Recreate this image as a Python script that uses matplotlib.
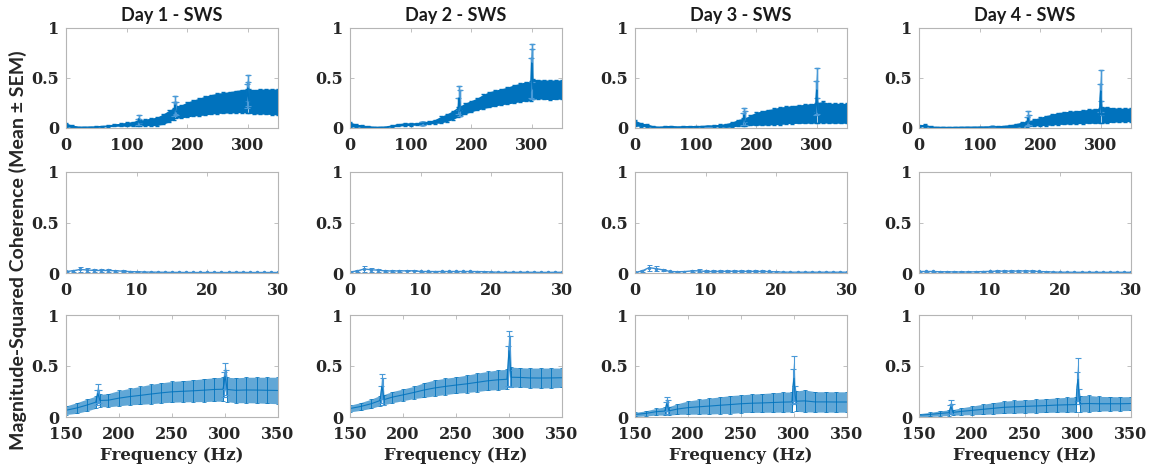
import matplotlib.pyplot as plt
import numpy as np

BLUE = '#0072BD'

# broadband frequency grid (Hz), denser around the 120/180/300 Hz line-noise peaks
freq = [0, 10, 20, 30, 40, 50, 60, 70, 80, 90, 100, 110,
        118, 119, 120, 121, 122,
        130, 140, 150, 160, 170,
        178, 179, 180, 181, 182,
        190, 200, 210, 220, 230, 240, 250, 260, 270, 280, 290,
        298, 299, 300, 301, 302,
        310, 320, 330, 340, 350]

day1_mean = [0.030, 0.018, 0.008, 0.008, 0.009, 0.011, 0.015, 0.020, 0.028, 0.033, 0.037, 0.043,
             0.048, 0.060, 0.090, 0.065, 0.050,
             0.056, 0.061, 0.066, 0.088, 0.118,
             0.145, 0.190, 0.230, 0.200, 0.162,
             0.165, 0.185, 0.200, 0.212, 0.225, 0.237, 0.247, 0.252, 0.257, 0.263, 0.270,
             0.272, 0.320, 0.400, 0.340, 0.270,
             0.262, 0.265, 0.264, 0.262, 0.260]
day1_sem = [0.020, 0.012, 0.005, 0.004, 0.004, 0.005, 0.006, 0.008, 0.012, 0.015, 0.020, 0.022,
            0.025, 0.030, 0.040, 0.030, 0.026,
            0.032, 0.038, 0.042, 0.052, 0.058,
            0.060, 0.070, 0.090, 0.065, 0.060,
            0.065, 0.075, 0.080, 0.088, 0.095, 0.098, 0.102, 0.104, 0.107, 0.112, 0.115,
            0.118, 0.120, 0.130, 0.120, 0.120,
            0.122, 0.125, 0.126, 0.128, 0.130]

day2_mean = [0.035, 0.025, 0.018, 0.012, 0.007, 0.007, 0.010, 0.020, 0.031, 0.037, 0.037, 0.041,
             0.045, 0.046, 0.047, 0.048, 0.049,
             0.055, 0.065, 0.083, 0.103, 0.130,
             0.160, 0.220, 0.300, 0.250, 0.170,
             0.195, 0.217, 0.240, 0.265, 0.285, 0.300, 0.313, 0.325, 0.340, 0.355, 0.365,
             0.370, 0.500, 0.650, 0.540, 0.390,
             0.388, 0.383, 0.382, 0.383, 0.385]
day2_sem = [0.025, 0.015, 0.012, 0.008, 0.005, 0.005, 0.005, 0.010, 0.014, 0.013, 0.013, 0.011,
            0.012, 0.012, 0.013, 0.013, 0.013,
            0.015, 0.020, 0.033, 0.038, 0.045,
            0.050, 0.080, 0.120, 0.130, 0.050,
            0.055, 0.057, 0.060, 0.072, 0.078, 0.080, 0.080, 0.085, 0.090, 0.092, 0.097,
            0.097, 0.200, 0.190, 0.250, 0.100,
            0.095, 0.097, 0.098, 0.097, 0.095]

day3_mean = [0.050, 0.033, 0.025, 0.012, 0.007, 0.012, 0.014, 0.010, 0.012, 0.013, 0.013, 0.015,
             0.016, 0.016, 0.017, 0.017, 0.017,
             0.020, 0.023, 0.025, 0.035, 0.052,
             0.058, 0.090, 0.130, 0.100, 0.060,
             0.078, 0.092, 0.100, 0.107, 0.115, 0.122, 0.130, 0.135, 0.138, 0.142, 0.146,
             0.148, 0.300, 0.380, 0.220, 0.155,
             0.158, 0.148, 0.148, 0.147, 0.147]
day3_sem = [0.030, 0.018, 0.015, 0.008, 0.005, 0.008, 0.008, 0.005, 0.006, 0.007, 0.007, 0.007,
            0.008, 0.008, 0.008, 0.008, 0.008,
            0.010, 0.013, 0.020, 0.025, 0.033,
            0.040, 0.060, 0.070, 0.070, 0.042,
            0.052, 0.065, 0.072, 0.078, 0.082, 0.088, 0.087, 0.090, 0.092, 0.095, 0.098,
            0.098, 0.170, 0.220, 0.080, 0.100,
            0.108, 0.100, 0.100, 0.100, 0.100]

day4_mean = [0.022, 0.024, 0.010, 0.006, 0.006, 0.005, 0.006, 0.007, 0.008, 0.008, 0.009, 0.010,
             0.010, 0.010, 0.011, 0.011, 0.011,
             0.012, 0.015, 0.018, 0.025, 0.035,
             0.042, 0.070, 0.100, 0.080, 0.045,
             0.055, 0.065, 0.075, 0.085, 0.095, 0.100, 0.104, 0.108, 0.112, 0.117, 0.120,
             0.122, 0.300, 0.370, 0.200, 0.130,
             0.132, 0.130, 0.130, 0.130, 0.132]
day4_sem = [0.012, 0.012, 0.006, 0.004, 0.004, 0.003, 0.004, 0.004, 0.005, 0.005, 0.005, 0.005,
            0.005, 0.005, 0.005, 0.005, 0.005,
            0.007, 0.010, 0.015, 0.020, 0.025,
            0.028, 0.045, 0.070, 0.050, 0.028,
            0.035, 0.042, 0.050, 0.055, 0.060, 0.063, 0.064, 0.066, 0.067, 0.070, 0.073,
            0.075, 0.140, 0.210, 0.070, 0.080,
            0.080, 0.072, 0.070, 0.068, 0.068]

# low-frequency band, 1 Hz resolution
freq_low = list(range(0, 31))

day1_low_mean = [0.015, 0.022, 0.035, 0.030, 0.025, 0.025, 0.025, 0.022, 0.018, 0.014, 0.012,
                 0.010, 0.009, 0.008, 0.007, 0.006, 0.006, 0.005, 0.005, 0.005, 0.005,
                 0.005, 0.005, 0.005, 0.006, 0.006, 0.005, 0.005, 0.005, 0.005, 0.005]
day1_low_sem = [0.006, 0.010, 0.025, 0.020, 0.014, 0.014, 0.013, 0.012, 0.008, 0.006, 0.005,
                0.004, 0.004, 0.003, 0.003, 0.003, 0.003, 0.003, 0.003, 0.003, 0.003,
                0.003, 0.003, 0.003, 0.003, 0.003, 0.003, 0.003, 0.003, 0.003, 0.003]

day2_low_mean = [0.010, 0.020, 0.040, 0.032, 0.028, 0.020, 0.020, 0.020, 0.022, 0.022, 0.015,
                 0.015, 0.014, 0.015, 0.015, 0.015, 0.015, 0.015, 0.014, 0.013, 0.010,
                 0.008, 0.006, 0.007, 0.007, 0.007, 0.007, 0.006, 0.006, 0.007, 0.007]
day2_low_sem = [0.005, 0.008, 0.027, 0.020, 0.014, 0.006, 0.006, 0.006, 0.006, 0.006, 0.005,
                0.005, 0.005, 0.005, 0.005, 0.005, 0.005, 0.005, 0.005, 0.005, 0.004,
                0.004, 0.003, 0.003, 0.003, 0.003, 0.003, 0.003, 0.003, 0.003, 0.003]

day3_low_mean = [0.005, 0.020, 0.053, 0.043, 0.030, 0.015, 0.012, 0.014, 0.020, 0.022, 0.015,
                 0.015, 0.016, 0.017, 0.017, 0.017, 0.016, 0.016, 0.015, 0.015, 0.010,
                 0.009, 0.008, 0.008, 0.008, 0.008, 0.008, 0.008, 0.008, 0.008, 0.008]
day3_low_sem = [0.004, 0.010, 0.030, 0.024, 0.012, 0.006, 0.006, 0.010, 0.012, 0.014, 0.010,
                0.010, 0.010, 0.010, 0.010, 0.010, 0.010, 0.010, 0.010, 0.009, 0.006,
                0.005, 0.004, 0.004, 0.004, 0.004, 0.004, 0.004, 0.004, 0.004, 0.004]

day4_low_mean = [0.015, 0.015, 0.015, 0.012, 0.012, 0.010, 0.010, 0.010, 0.012, 0.014, 0.016,
                 0.018, 0.018, 0.018, 0.019, 0.020, 0.018, 0.015, 0.012, 0.010, 0.008,
                 0.008, 0.007, 0.007, 0.007, 0.007, 0.007, 0.007, 0.007, 0.007, 0.007]
day4_low_sem = [0.008, 0.008, 0.008, 0.006, 0.006, 0.005, 0.005, 0.005, 0.006, 0.006, 0.007,
                0.007, 0.007, 0.007, 0.007, 0.007, 0.007, 0.006, 0.005, 0.004, 0.004,
                0.004, 0.004, 0.004, 0.004, 0.004, 0.004, 0.004, 0.004, 0.004, 0.004]

titles = ['Day 1 - SWS', 'Day 2 - SWS', 'Day 3 - SWS', 'Day 4 - SWS']
means = [day1_mean, day2_mean, day3_mean, day4_mean]
sems = [day1_sem, day2_sem, day3_sem, day4_sem]
low_means = [day1_low_mean, day2_low_mean, day3_low_mean, day4_low_mean]
low_sems = [day1_low_sem, day2_low_sem, day3_low_sem, day4_low_sem]

TICK_FONT = {'family': 'DejaVu Serif', 'weight': 'bold', 'size': 11.5}


def style_axes(ax, xlim, xticks):
    ax.set_xlim(*xlim)
    ax.set_ylim(0, 1)
    ax.set_xticks(xticks)
    ax.set_xticklabels([str(t) for t in xticks], fontdict=TICK_FONT)
    ax.set_yticks([0, 0.5, 1])
    ax.set_yticklabels(['0', '0.5', '1'], fontdict=TICK_FONT)
    ax.tick_params(direction='in', length=3, width=0.6, color='#b5b5b5',
                   labelcolor='#262626', top=True, right=True)
    ax.tick_params(axis='x', pad=6.5)
    ax.tick_params(axis='y', pad=5)
    for sp in ax.spines.values():
        sp.set_color('#b5b5b5')
        sp.set_linewidth(0.8)


fig = plt.figure(figsize=(11.58, 4.74), dpi=100)

lefts = [66, 350, 635, 919]
W = 1158.0
H = 474.0
rows = [(28, 128), (172, 273), (315, 417)]

for i in range(4):
    f = np.array(freq)
    m = np.array(means[i])
    s = np.array(sems[i])
    spk = np.isin(f, [119, 120, 121, 179, 180, 181, 299, 300, 301])

    # row 1: full 0-350 Hz range, dense bars render as a solid band
    t, b = rows[0]
    ax = fig.add_axes([lefts[i] / W, 1 - b / H, 212 / W, (b - t) / H])
    ax.fill_between(f, m - s, m + s, color=BLUE, lw=0)
    ax.errorbar(f, m, yerr=s, color=BLUE, lw=1.0, elinewidth=1.0, capsize=1.5)
    ax.errorbar(f[spk], m[spk], yerr=s[spk], fmt='none', ecolor='#4a9ad8',
                elinewidth=0.8, capsize=2.2, capthick=0.8)
    style_axes(ax, (0, 350), [0, 100, 200, 300])
    ax.set_title(titles[i], fontfamily='Lato', fontweight='bold', fontsize=13,
                 color='#1a1a1a', pad=5)

    # row 2: 0-30 Hz
    t, b = rows[1]
    ax = fig.add_axes([lefts[i] / W, 1 - b / H, 212 / W, (b - t) / H])
    ax.errorbar(freq_low, low_means[i], yerr=low_sems[i], color='#3d8fd2', lw=1.0,
                marker='.', ms=3, elinewidth=0.7, capsize=1.8, capthick=0.7)
    style_axes(ax, (0, 30), [0, 10, 20, 30])

    # row 3: 150-350 Hz detail
    t, b = rows[2]
    ax = fig.add_axes([lefts[i] / W, 1 - b / H, 212 / W, (b - t) / H])
    ax.fill_between(f, m - s, m + s, color=BLUE, alpha=0.62, lw=0)
    ax.errorbar(f, m, yerr=s, color=BLUE, lw=0.8, elinewidth=0.7, capsize=1.5,
                capthick=0.6, alpha=0.85)
    ax.errorbar(f[spk], m[spk], yerr=s[spk], fmt='none', ecolor='#4a9ad8',
                elinewidth=0.8, capsize=2.2, capthick=0.8)
    style_axes(ax, (150, 350), [150, 200, 250, 300, 350])
    ax.set_xlabel('Frequency (Hz)', fontfamily='DejaVu Serif', fontweight='bold',
                  fontsize=12, color='#262626', labelpad=3)

fig.text(18 / W, 1 - 250 / H, 'Magnitude-Squared Coherence (Mean \u00b1 SEM)',
         rotation=90, ha='center', va='center', fontfamily='Lato',
         fontweight='bold', fontsize=14, color='#262626')

fig.savefig('out.png', dpi=100)
